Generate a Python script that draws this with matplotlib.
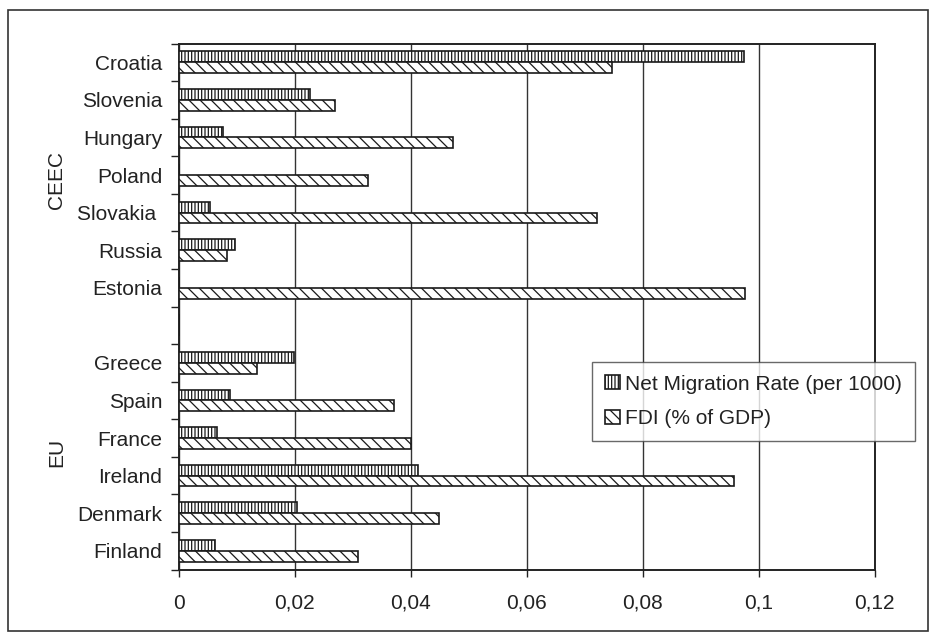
import matplotlib
matplotlib.use("Agg")
import matplotlib.pyplot as plt
from matplotlib.patches import Rectangle
import numpy as np

plt.rcParams['font.family'] = ['Liberation Sans', 'DejaVu Sans']
plt.rcParams['hatch.linewidth'] = 0.9

# Countries, top to bottom; the empty entry separates the two groups
countries = ["Croatia", "Slovenia", "Hungary", "Poland", "Slovakia ", "Russia", "Estonia",
             "",
             "Greece", "Spain", "France", "Ireland", "Denmark", "Finland"]
net_migration = [0.0975, 0.0226, 0.0076, 0.0, 0.0054, 0.0096, 0.0,
                 np.nan,
                 0.0198, 0.0088, 0.0066, 0.0413, 0.0203, 0.0062]
fdi = [0.0747, 0.0270, 0.0472, 0.0326, 0.0721, 0.0082, 0.0977,
       np.nan,
       0.0135, 0.0371, 0.0400, 0.0958, 0.0449, 0.0309]
x_ticks = [0, 0.02, 0.04, 0.06, 0.08, 0.10, 0.12]
x_tick_labels = ["0", "0,02", "0,04", "0,06", "0,08", "0,1", "0,12"]
series_names = ["Net Migration Rate (per 1000)", "FDI (% of GDP)"]
group_names = ["CEEC", "EU"]

fig = plt.figure(figsize=(9.4, 6.32), dpi=100)
ax = fig.add_axes([179 / 940, 1 - 569.5 / 632, (874.5 - 179) / 940, (569.5 - 43.5) / 632])

ypos = np.arange(len(countries))
h = 0.29
mig_vals = np.nan_to_num(net_migration)
fdi_vals = np.nan_to_num(fdi)

ax.barh(ypos - h / 2, mig_vals, height=h, facecolor="white", edgecolor="#1a1a1a",
        linewidth=1.2, hatch="|||||", label=series_names[0], zorder=3)
ax.barh(ypos + h / 2, fdi_vals, height=h, facecolor="white", edgecolor="#1a1a1a",
        linewidth=1.2, hatch="\\\\\\", label=series_names[1], zorder=3)

ax.set_xlim(0, 0.12)
ax.set_ylim(len(countries) - 0.5, -0.5)

ax.set_xticks(x_ticks)
ax.set_xticklabels(x_tick_labels, fontsize=15, color="#222222")
ax.tick_params(axis="x", direction="out", length=5, width=1.0, pad=12.5, color="#222222")

ax.set_yticks(ypos)
ax.set_yticklabels(countries, fontsize=15, color="#222222")
ax.tick_params(axis="y", which="major", length=0, pad=12)
ax.set_yticks(np.arange(-0.5, len(countries), 1.0), minor=True)
ax.tick_params(axis="y", which="minor", direction="out", length=5.5, width=1.0, color="#222222")

ax.xaxis.grid(True, color="#333333", linewidth=1.0, zorder=0)
ax.set_axisbelow(True)
for side in ["left", "right", "top", "bottom"]:
    ax.spines[side].set_color("#222222")
    ax.spines[side].set_linewidth(1.4)

# Group labels on the left
fig.text(56.7 / 940, 1 - 180 / 632, group_names[0], rotation=90, ha="center", va="center",
         fontsize=15, color="#222222")
fig.text(56.7 / 940, 1 - 452 / 632, group_names[1], rotation=90, ha="center", va="center",
         fontsize=15, color="#222222")

leg = ax.legend(loc="upper left", bbox_to_anchor=(592 / 940, 1 - 362 / 632),
                bbox_transform=fig.transFigure, fontsize=15, frameon=True, fancybox=False,
                handlelength=0.75, handleheight=0.65, handletextpad=0.25, borderpad=0.6,
                labelspacing=0.75, borderaxespad=0)
leg.get_frame().set_edgecolor("#444444")
leg.get_frame().set_linewidth(1.0)
for t in leg.get_texts():
    t.set_color("#222222")

# Outer frame around the chart
fig.patches.append(Rectangle((8 / 940, 1 / 632), 920 / 940, 621 / 632,
                             transform=fig.transFigure, fill=False,
                             edgecolor="#333333", linewidth=1.2))

fig.savefig("out.png", dpi=100)
